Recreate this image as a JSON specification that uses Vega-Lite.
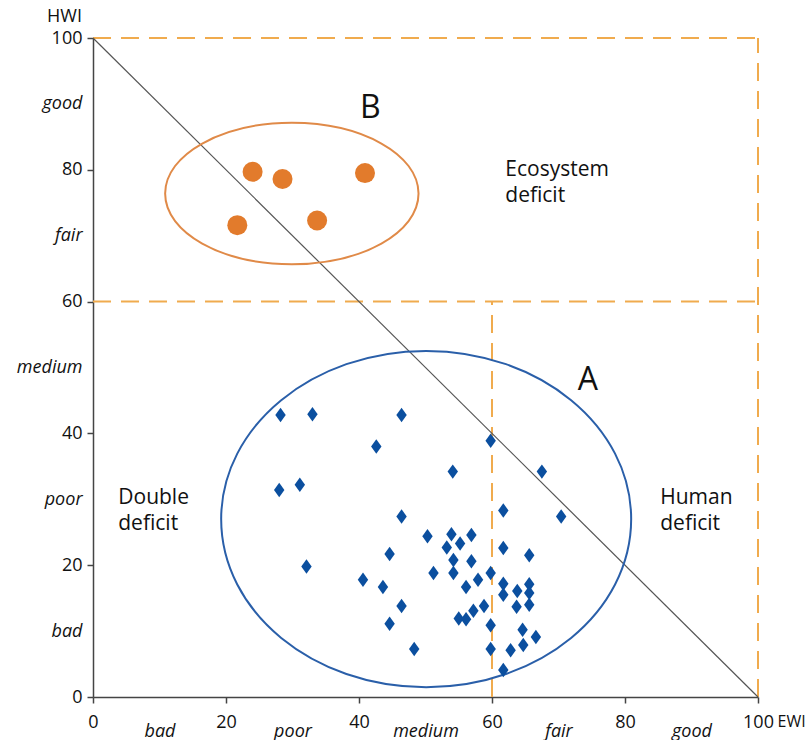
{
  "$schema": "https://vega.github.io/schema/vega-lite/v6.json",
  "width": 665,
  "height": 659,
  "autosize": {"type": "none"},
  "padding": {"left": 93, "top": 38, "right": 50, "bottom": 43},
  "background": "white",
  "config": {"view": {"stroke": null}, "font": "Open Sans"},
  "datasets": {
    "lines": [
      {"kind": "dash", "x": 0, "y": 100, "x2": 100, "y2": 100},
      {"kind": "dash", "x": 100, "y": 0, "x2": 100, "y2": 100},
      {"kind": "dash", "x": 0, "y": 60, "x2": 100, "y2": 60},
      {"kind": "dash", "x": 60, "y": 0, "x2": 60, "y2": 60},
      {"kind": "diag", "x": 0, "y": 100, "x2": 100, "y2": 0}
    ],
    "ellipses": [
      {"group": "A", "x": 50.1, "y": 27.0},
      {"group": "B", "x": 29.9, "y": 76.4}
    ],
    "groupB": [
      {"x": 24.0, "y": 79.7},
      {"x": 28.5, "y": 78.6},
      {"x": 40.9, "y": 79.5},
      {"x": 21.7, "y": 71.6},
      {"x": 33.7, "y": 72.3}
    ],
    "groupA": [
      {"x": 28.2, "y": 42.8}, {"x": 33.0, "y": 42.9}, {"x": 46.4, "y": 42.8},
      {"x": 42.6, "y": 38.0}, {"x": 59.8, "y": 38.9}, {"x": 54.1, "y": 34.2},
      {"x": 67.5, "y": 34.2}, {"x": 28.0, "y": 31.4}, {"x": 31.1, "y": 32.2},
      {"x": 46.4, "y": 27.4}, {"x": 61.7, "y": 28.3}, {"x": 70.4, "y": 27.4},
      {"x": 50.3, "y": 24.4}, {"x": 53.9, "y": 24.7}, {"x": 56.9, "y": 24.6},
      {"x": 55.2, "y": 23.3}, {"x": 53.2, "y": 22.7}, {"x": 44.6, "y": 21.7},
      {"x": 61.7, "y": 22.6}, {"x": 65.6, "y": 21.5}, {"x": 54.2, "y": 20.8},
      {"x": 56.9, "y": 20.6}, {"x": 32.1, "y": 19.8}, {"x": 51.2, "y": 18.8},
      {"x": 54.2, "y": 18.8}, {"x": 59.8, "y": 18.8}, {"x": 40.6, "y": 17.8},
      {"x": 57.9, "y": 17.8}, {"x": 43.6, "y": 16.7}, {"x": 56.1, "y": 16.7},
      {"x": 61.7, "y": 17.2}, {"x": 65.6, "y": 17.1}, {"x": 63.8, "y": 16.1},
      {"x": 61.7, "y": 15.5}, {"x": 65.6, "y": 15.8}, {"x": 46.4, "y": 13.8},
      {"x": 58.8, "y": 13.8}, {"x": 57.2, "y": 13.1}, {"x": 63.7, "y": 13.7},
      {"x": 65.6, "y": 14.0}, {"x": 55.0, "y": 11.9}, {"x": 56.1, "y": 11.8},
      {"x": 44.6, "y": 11.1}, {"x": 59.8, "y": 10.9}, {"x": 64.6, "y": 10.2},
      {"x": 66.6, "y": 9.1}, {"x": 48.3, "y": 7.3}, {"x": 59.8, "y": 7.3},
      {"x": 62.8, "y": 7.1}, {"x": 64.7, "y": 7.9}, {"x": 61.7, "y": 4.1}
    ],
    "letters": [
      {"x": 41.7, "y": 89.4, "label": "B"},
      {"x": 74.4, "y": 48.1, "label": "A"}
    ],
    "regions": [
      {"x": 62.0, "y": 80.0, "label": "Ecosystem\ndeficit"},
      {"x": 3.8, "y": 30.2, "label": "Double\ndeficit"},
      {"x": 85.3, "y": 30.2, "label": "Human\ndeficit"}
    ]
  },
  "encoding": {
    "x": {
      "field": "x", "type": "quantitative",
      "scale": {"domain": [0, 100], "nice": false, "zero": false},
      "axis": {
        "title": "EWI", "titleX": 684, "titleY": 24, "titleAlign": "left", "titleBaseline": "middle",
        "titleFontSize": 16, "titleFontWeight": "normal", "titleColor": "#111", "titleFont": "Open Sans",
        "values": [0, 10, 20, 30, 40, 50, 60, 70, 80, 90, 100],
        "labelExpr": "datum.value == 10 ? 'bad' : datum.value == 30 ? 'poor' : datum.value == 50 ? 'medium' : datum.value == 70 ? 'fair' : datum.value == 90 ? 'good' : datum.label",
        "labelFontSize": 18, "labelColor": "#111", "labelFont": "Open Sans",
        "labelFontStyle": {"condition": {"test": "datum.value % 20 == 10", "value": "italic"}, "value": "normal"},
        "labelPadding": {"condition": {"test": "datum.value % 20 == 10", "value": 19}, "value": 10},
        "labelOverlap": false, "labelFlush": false, "labelBound": false,
        "tickOpacity": {"condition": {"test": "datum.value % 20 == 10", "value": 0}, "value": 1},
        "tickSize": 6, "tickColor": "#444", "tickWidth": 1.5,
        "domainColor": "#444", "domainWidth": 1.5, "grid": false
      }
    },
    "y": {
      "field": "y", "type": "quantitative",
      "scale": {"domain": [0, 100], "nice": false, "zero": false},
      "axis": {
        "title": "HWI", "titleX": -29, "titleY": -22, "titleAngle": 0, "titleAlign": "center", "titleBaseline": "middle",
        "titleFontSize": 18, "titleFontWeight": "normal", "titleColor": "#111", "titleFont": "Open Sans",
        "values": [0, 10, 20, 30, 40, 50, 60, 70, 80, 90, 100],
        "labelExpr": "datum.value == 10 ? 'bad' : datum.value == 30 ? 'poor' : datum.value == 50 ? 'medium' : datum.value == 70 ? 'fair' : datum.value == 90 ? 'good' : datum.label",
        "labelFontSize": 18, "labelColor": "#111", "labelFont": "Open Sans",
        "labelFontStyle": {"condition": {"test": "datum.value % 20 == 10", "value": "italic"}, "value": "normal"},
        "labelPadding": 5,
        "labelOverlap": false, "labelFlush": false, "labelBound": false,
        "tickOpacity": {"condition": {"test": "datum.value % 20 == 10", "value": 0}, "value": 1},
        "tickSize": 6, "tickColor": "#444", "tickWidth": 1.5,
        "domainColor": "#444", "domainWidth": 1.5, "grid": false
      }
    }
  },
  "layer": [
    {
      "data": {"name": "lines"},
      "transform": [{"filter": "datum.kind == 'dash'"}],
      "mark": {"type": "rule", "color": "#f0ab4e", "strokeWidth": 2, "strokeDash": [18, 10]},
      "encoding": {"x2": {"field": "x2"}, "y2": {"field": "y2"}}
    },
    {
      "data": {"name": "lines"},
      "transform": [{"filter": "datum.kind == 'diag'"}],
      "mark": {"type": "rule", "color": "#555555", "strokeWidth": 1.2},
      "encoding": {"x2": {"field": "x2"}, "y2": {"field": "y2"}}
    },
    {
      "data": {"name": "ellipses"},
      "transform": [{"filter": "datum.group == 'A'"}],
      "mark": {
        "type": "point", "filled": false, "opacity": 1, "stroke": "#2a5fa9", "strokeWidth": 2,
        "size": 168100,
        "shape": "M 1 0 C 1 0.4529 0.5523 0.82 0 0.82 C -0.5523 0.82 -1 0.4529 -1 0 C -1 -0.4529 -0.5523 -0.82 0 -0.82 C 0.5523 -0.82 1 -0.4529 1 0 Z"
      }
    },
    {
      "data": {"name": "ellipses"},
      "transform": [{"filter": "datum.group == 'B'"}],
      "mark": {
        "type": "point", "filled": false, "opacity": 1, "stroke": "#e08a48", "strokeWidth": 2,
        "size": 64212,
        "shape": "M 1 0 C 1 0.3082 0.5523 0.558 0 0.558 C -0.5523 0.558 -1 0.3082 -1 0 C -1 -0.3082 -0.5523 -0.558 0 -0.558 C 0.5523 -0.558 1 -0.3082 1 0 Z"
      }
    },
    {
      "data": {"name": "groupB"},
      "mark": {"type": "point", "shape": "circle", "filled": true, "opacity": 1, "fill": "#e27b2c", "size": 400}
    },
    {
      "data": {"name": "groupA"},
      "mark": {"type": "point", "filled": true, "opacity": 1, "fill": "#0b4f9f", "size": 210,
        "shape": "M 0 -1 L 0.72 0 L 0 1 L -0.72 0 Z"}
    },
    {
      "data": {"name": "letters"},
      "mark": {"type": "text", "fontSize": 32, "color": "#111", "align": "center", "baseline": "middle", "font": "Open Sans"},
      "encoding": {"text": {"field": "label"}}
    },
    {
      "data": {"name": "regions"},
      "mark": {"type": "text", "fontSize": 21, "lineHeight": 26, "lineBreak": "\n", "color": "#111", "align": "left", "baseline": "middle", "font": "Open Sans"},
      "encoding": {"text": {"field": "label"}}
    }
  ]
}
